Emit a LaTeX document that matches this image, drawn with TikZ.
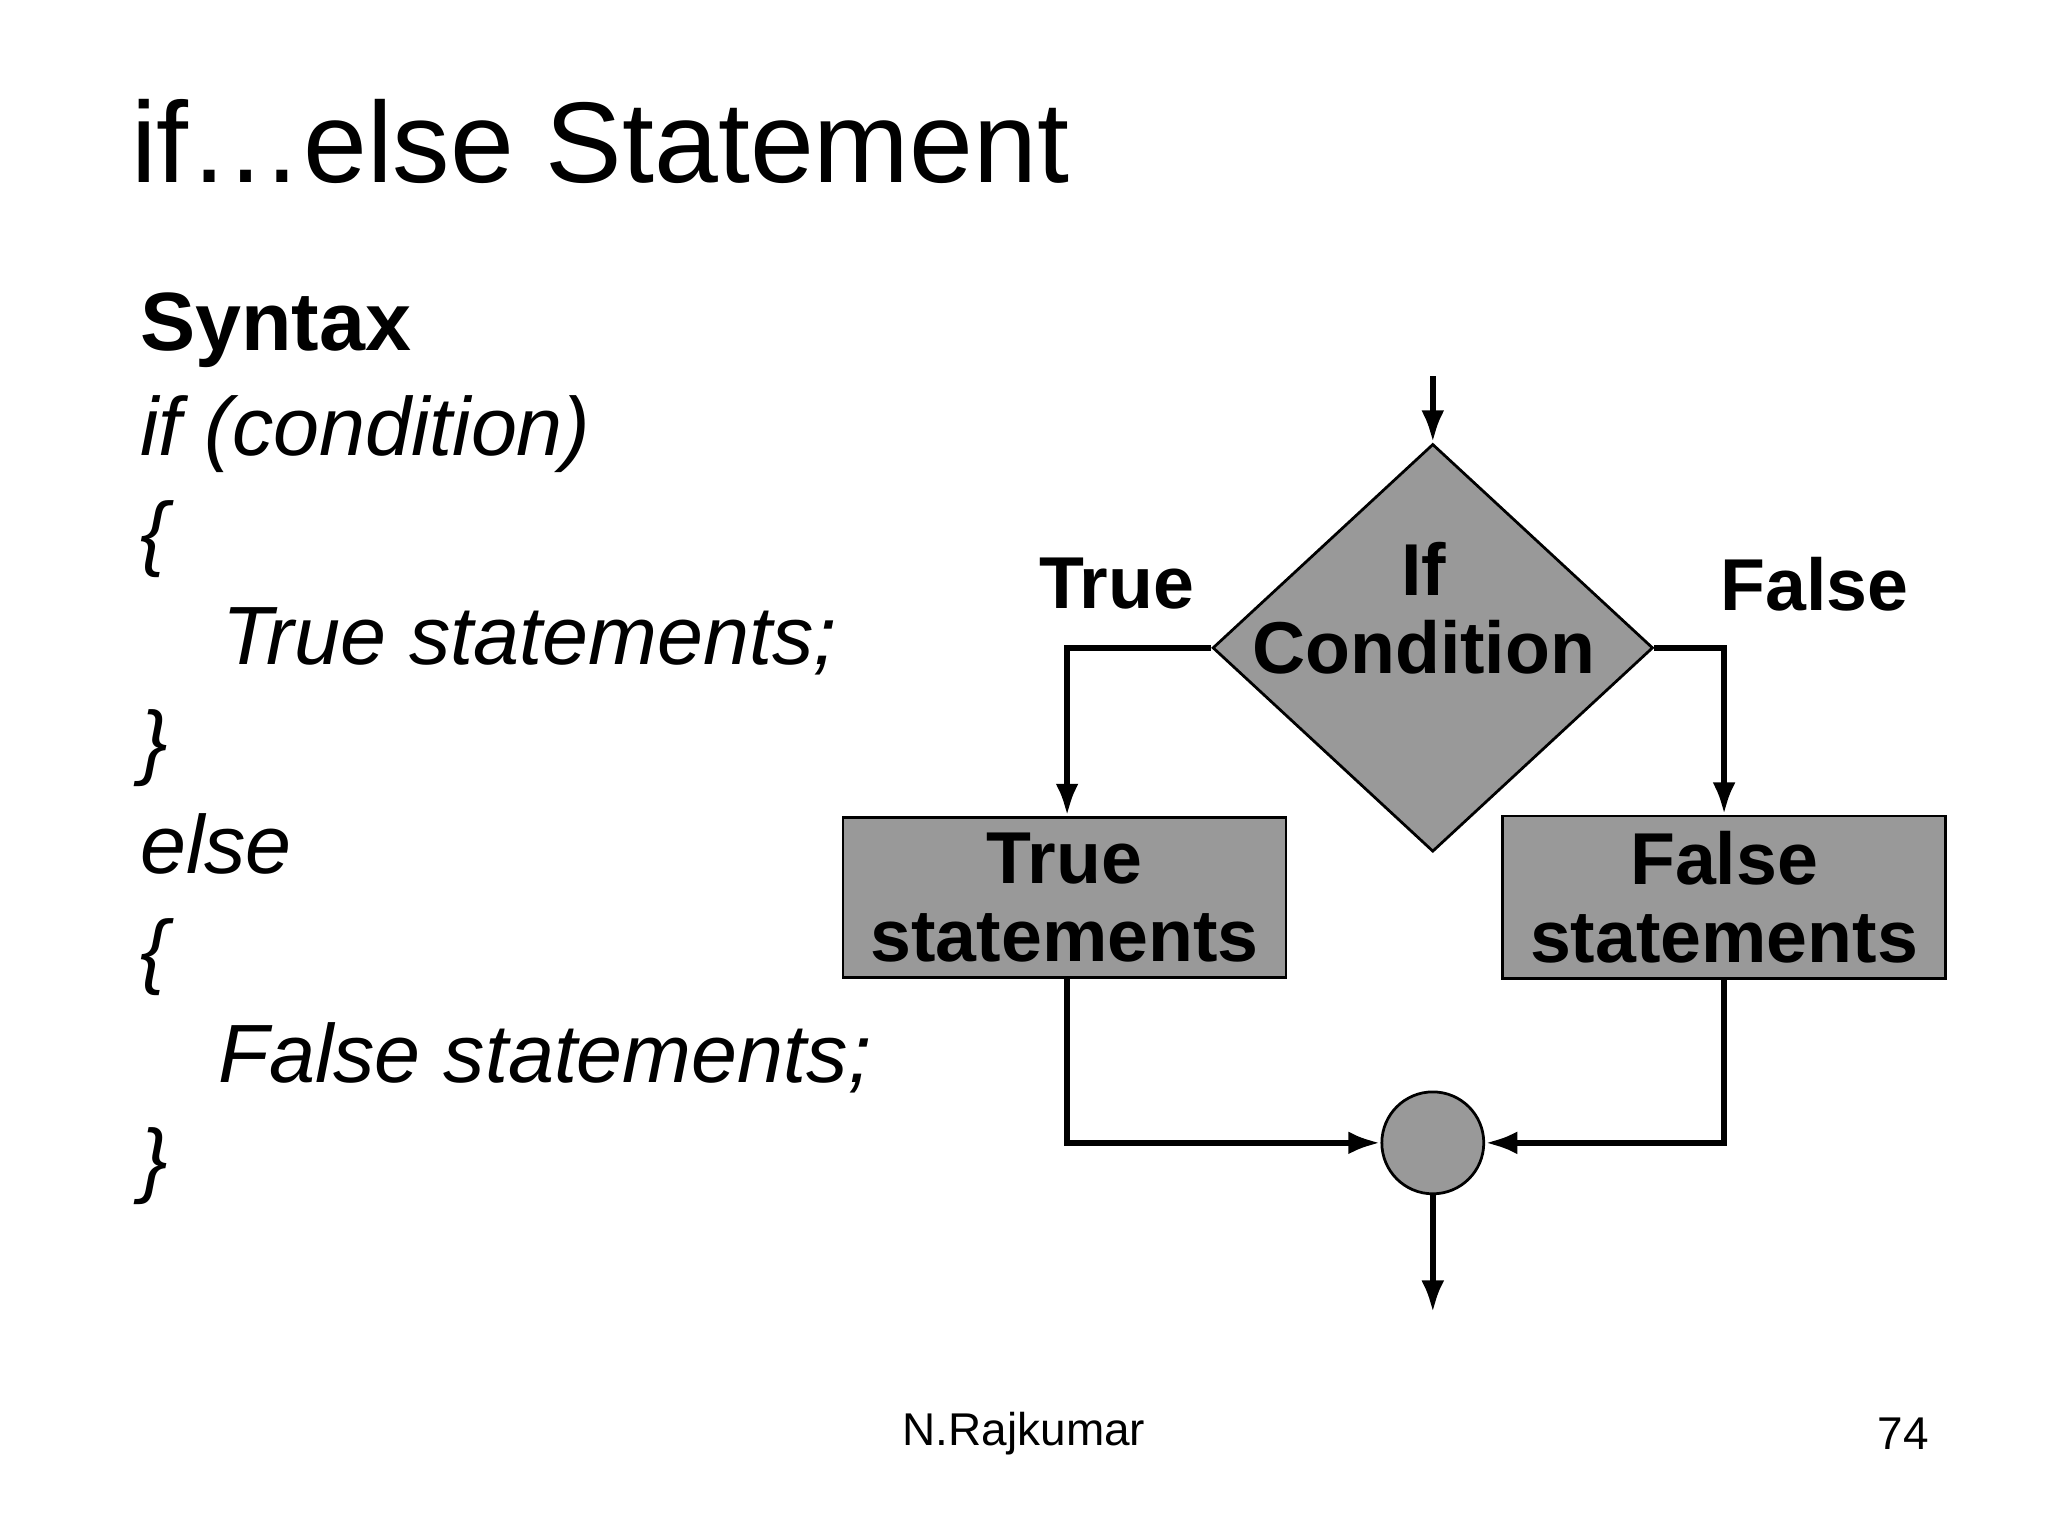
\documentclass[tikz,border=0pt]{standalone}
\usepackage{fontspec}
\setmainfont{Liberation Sans}
\usetikzlibrary{shapes.geometric,arrows.meta,positioning}

\begin{document}
\begin{tikzpicture}[x=0.01cm,y=-0.01cm, >={Latex[length=7pt,width=5pt]},
    line/.style={line width=1.3pt},
    block/.style={rectangle, draw, fill=gray!80, line width=0.6pt,
      minimum width=3.39cm, minimum height=1.17cm, align=center,
      font=\fontsize{16}{19}\selectfont\bfseries},
    decision/.style={diamond, draw, fill=gray!80, line width=0.6pt,
      minimum width=3.37cm, minimum height=3.12cm, inner sep=0pt},
    code/.style={anchor=base west, font=\fontsize{18}{20}\selectfont\itshape},
    tag/.style={font=\fontsize{16}{19}\selectfont\bfseries}]
    \useasboundingbox (0,0) rectangle (1568,1176);
    % title and syntax
    \node[anchor=base west, font=\fontsize{25}{30}\selectfont] (title) at (88,140) {if…else Statement};
    \node[code, font=\fontsize{18}{20}\selectfont\bfseries] (syntax) at (95,268) {Syntax};
    \node[code] (ifline) at (95,349) {if (condition)};
    \node[code] (open1) at (95,429) {\{};
    \node[code] (truest) at (158,509) {True statements;};
    \node[code] (close1) at (95,589) {\}};
    \node[code] (elseline) at (95,669) {else};
    \node[code] (open2) at (95,749) {\{};
    \node[code] (falsest) at (155,829) {False statements;};
    \node[code] (close2) at (95,909) {\}};
    % flowchart
    \coordinate (start) at (1097,288);
    \node[decision] (cond) at (1097,496) {};
    \node[tag, align=center] (condtext) at (1090,466) {If\\[-2pt]Condition};
    \node[block] (tbox) at (815,687) {True\\[-2pt]statements};
    \node[block] (fbox) at (1320,687) {False\\[-2pt]statements};
    \node[circle, draw, fill=gray!80, line width=0.6pt, minimum size=0.78cm] (join) at (1097,875) {};
    \coordinate (finish) at (1097,1005);
    \node[tag] (tlabel) at (855,447) {True};
    \node[tag] (flabel) at (1389,447) {False};
    \draw[line,->] (start) -- (cond.north);
    \draw[line,->] (cond.west) -| (tbox.north -| 817,0);
    \draw[line,->] (cond.east) -| (fbox.north);
    \draw[line,->] (tbox.south -| 817,0) |- (join.west);
    \draw[line,->] (fbox.south) |- (join.east);
    \draw[line,->] (join.south) -- (finish);
    % footer
    \node[font=\fontsize{10}{12}\selectfont] (author) at (784,1098) {N.Rajkumar};
    \node[font=\fontsize{10}{12}\selectfont] (page) at (1457,1098) {74};
\end{tikzpicture}
\end{document}
